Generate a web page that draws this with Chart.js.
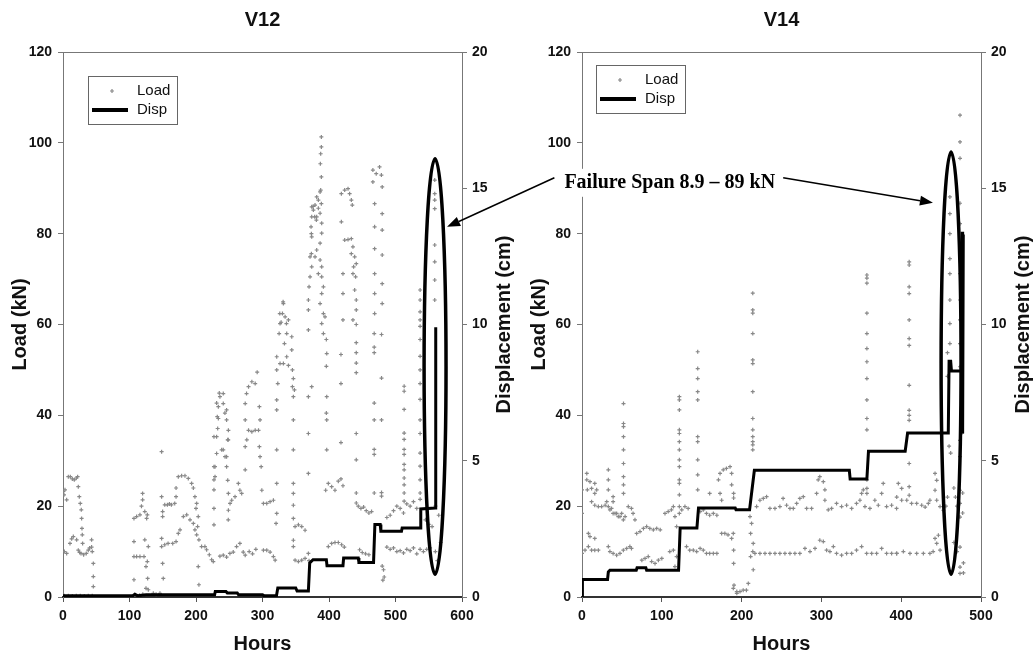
<!DOCTYPE html>
<html lang="en">
<head>
<meta charset="UTF-8">
<title>V12 / V14 load and displacement</title>
<script src="https://cdn.jsdelivr.net/npm/chart.js"></script>
<style>
  body { margin: 0; background: #fff; }
  #wrap { position: relative; width: 1034px; height: 658px; }
  #wrap canvas { position: absolute; top: 0; }
  #v12 { left: 0; }
  #v14 { left: 517px; }
  #notes { left: 0; pointer-events: none; }
</style>
</head>
<body>
<div id="wrap">
  <canvas id="v12" width="517" height="658"></canvas>
  <canvas id="v14" width="517" height="658"></canvas>
  <canvas id="notes" width="1034" height="658"></canvas>
</div>
<script>
// axes
const loadTicks = [0, 20, 40, 60, 80, 100, 120];
const dispTicks = [0, 5, 10, 15, 20];
const v12HourTicks = [0, 100, 200, 300, 400, 500, 600];
const v14HourTicks = [0, 100, 200, 300, 400, 500];
const failureLabel = 'Failure Span 8.9 \u2013 89 kN';

// V12 load, [hours, kN]
const v12Load = [
  [0,23.2],[1.5,22.5],[3,23.6],[5.5,21.4],[2,10],[5.5,9.6],[8,26.5],[11,26.5],[14,26],[17,25.8],[20,26.2],[22,26.5],
  [10.5,11.8],[13,12.8],[15.5,13.3],[20.5,12.6],[23,24.3],[24.5,22.1],[26,20.6],[27.5,19.2],[28,17.3],[28.5,15.1],
  [29,13.7],[29.5,11.8],[23,10.3],[25,9.8],[27,9.6],[31,9.3],[35,9.6],[38,10.3],[40,10.8],[43,12.6],[43,11],[44,10],
  [45.6,7.4],[45.6,4.5],[45.6,2.3],[2,0.3],[8,0.3],[14,0.2],[20,0.3],[26,0.3],[32,0.2],[38,0.3],[44,0.3],
  [106.7,17.3],[110.7,17.7],[115.7,18.1],[119.7,22.8],[119.7,21.4],[118,20],[123,18.8],[126.8,18.1],[125.8,17.3],
  [106.7,12.2],[106.7,8.9],[110.7,8.9],[115.7,8.9],[121.8,8.9],[126.8,7.8],[123,12.6],[128.3,11.1],[124.8,6.7],
  [127.3,4.1],[106.7,3.8],[124.8,1.9],[128.3,1.6],[135.8,0.8],[145.8,0.8],[108,0.5],[115,0.4],[120,0.6],[140,0.6],
  [148.3,32],[148.3,22.1],[149.8,18.8],[149.8,17.7],[148.3,12.9],[148.3,11.1],[149.8,7.4],[150.8,4.1],[153,20.3],
  [157,20.3],[160,20.5],[163,20.3],[168,20.6],[170,24],[170,22.1],[173.4,26.5],[178.4,26.7],[183.4,26.7],[188.4,26.1],
  [193.4,25],[196,24],[198.4,22.1],[201,20.6],[200,19.5],[203.4,17.7],[202.4,15.5],[204.4,12.6],[203.4,6.7],[204.4,2.7],
  [153,11.5],[158,11.8],[165,11.8],[170,12.2],[173.4,14],[176,14.8],[181,17.7],[186,18.1],[191,17],[196,16.2],
  [198.4,14.8],[201,13.7],[208.4,11.1],[213.4,11.1],[216,10.4],[220,9.3],[223.5,8.2],[226,7.8],
  [227,35.3],[227,28.7],[227,25.8],[227,23.6],[227,19.5],[227,15.9],[228.6,26.5],[228.6,28.7],[231,31.6],[231,35.3],
  [232.6,37.1],[233.6,39.3],[233.6,41.9],[236,44.1],[241,44.8],[241,42.6],[246,41.2],[246,39],[248.7,36.7],[247.7,34.6],
  [241,32.4],[243.7,30.9],[238.6,32.4],[246,28.7],[247.7,25.7],[248.7,22.8],[248.7,19.1],[248.5,17],[251.2,20.6],
  [253.7,21.3],[258.7,22.1],[263.7,25],[266,23.5],[268.7,22.8],[251,9.6],[256,9.9],[261,11.1],[266,11.8],[271,9.9],
  [274,9.2],[236,9],[241,9.2],[246,8.8],[274,28],[274,33.1],[274,39],[274,42.6],[276,44.8],[279,46.3],[284,47.4],
  [289,47],[292,49.5],[276.4,34.6],[279,36.7],[284,36.4],[289,36.7],[294,36.7],[295.3,41.9],[296.3,39],[295.3,33.1],
  [296.3,30.9],[298,28.7],[299,23.5],[301.4,20.6],[306.4,20.6],[311.4,21],[316.4,21.3],[301.4,10.3],[306.4,10.3],
  [311.4,9.9],[316.4,8.9],[319,8.1],[231,42.7],[235,44.9],[232,39.7],[243.5,40.5],[246,30.9],[248.5,34.6],[280,10],
  [285,9.5],[290,10.5],
  [321.4,32.4],[321.4,25],[321.4,18.4],[320.4,16.2],[321.4,41.2],[321.4,43.4],[323,47],[321.4,50],[325,58],[326.4,60.2],
  [330,62.4],[331.4,64.6],[334,61.7],[339,61],[336.4,58],[333,55.8],[336.4,52.9],[339,51],[344,57.3],[344,54.4],[345,50],
  [346.4,48.1],[345,46.3],[348,45.6],[346.4,44.1],[331.4,51.4],[326.4,51.4],[321.4,52.9],[346.4,39],[346.4,32.4],
  [346.4,25],[346.4,22.8],[346.4,20.2],[346.4,17.3],[349,15.5],[354,15.9],[359,15.5],[364,14.7],[346.4,12.5],[346.4,11.1],
  [349,8.1],[354,7.8],[359,8.1],[364,8.5],[326,62.4],[331,65],[336,60.2],[328,60.5],
  [369,9.6],[369,27.2],[369,36],[369,44.1],[369,58.8],[369,63.2],[369,65.4],[370,68.3],[371.5,70.5],[374,72.7],
  [371.5,74.9],[374,79.3],[373,81.5],[374,83.7],[376.5,85.2],[374,85.9],[379,86.3],[384,85.6],[386.6,84.5],[381.5,83.7],
  [389,82.3],[389,80.1],[386.6,77.9],[381.5,76.4],[379,74.9],[386.6,74.2],[389,72.7],[384,71.2],[389,70.5],[391.6,68.3],
  [389,66.8],[386.6,64.6],[391.6,62.4],[394,61.7],[389,60.2],[391.6,58],[396.6,53.6],[396.6,44.1],[396.6,39],[396.6,32.4],
  [395,23.5],[399,25],[404,24.3],[399,11.1],[404,11.8],[384,87.4],[381.5,88.1],[386.6,89.2],[374,46.3],[388.5,101.3],
  [388.5,99.1],[387.5,97.6],[387,95.4],[388.5,92.5],[387.5,89.6],[376,86],[378.5,83.7],[373.5,80],[381,83],[373.5,75.6],
  [388.5,86.6],[396,56.7],[396,50.8],[396,40.5],[409,23.5],[414,25.5],[418,26],[421,24.5],[409,12],[414,12],[419,11.5],
  [423,11],[370,8],
  [418.6,88.8],[423.6,89.6],[428.6,89.9],[431,88.8],[433.6,87.4],[435,86.3],[418.6,82.6],[423.6,78.6],[428.6,78.7],
  [433.6,78.9],[436,77.1],[438.6,74.9],[441,73.4],[436,71.2],[440,70.5],[438.6,67.6],[441,65.4],[441,63.2],[436,61],
  [421,71.2],[421,66.8],[421,61],[433.6,75.6],[437,72.7],[418,53.4],[418,47],[418,34],[441,60],[441,56],[441,53.8],
  [441,51.5],[441,49.4],[441,36],[441,30.2],[441,22.9],[441,20.7],[444,20],[448,19.5],[452,19.8],[456,19],[460,18.5],
  [464,18.8],[446,10.4],[450,9.8],[455,9.5],[460,9.3],
  [466,94],[471,93.2],[476,94.7],[478.8,92.9],[466,91.4],[480,90.3],[468.6,86.6],[480,84.4],[468.6,81.5],[480,80.8],
  [468.6,76.7],[480,75.3],[468.6,71.2],[480,69],[468.6,66.8],[480,64.6],[468.6,62.4],[468,58],[468,55],[468,53.8],
  [468,42.7],[468,39],[468,32.5],[468,31.4],[468,22.9],[479,57.8],[479,48.2],[479,39],[479,23],[479,22.2],[480,6.8],
  [482,6],[483,4.4],[481,3.7],
  [487,17.5],[492,18],[497,19],[502,20],[507,19.5],[512,18.5],[517,20.5],[522,20],[527,21],[532,19.5],[537,21.5],
  [487,11],[492,10.5],[497,10.8],[502,10],[507,10.2],[512,9.7],[517,10.5],[522,10.2],[527,10.8],[532,9.5],[537,10.5],
  [542,10],[547,10.5],[552,10.8],[513,46.4],[513,45.3],[513,41.3],[513,36.1],[513,34.7],[513,32.5],[513,31.4],[513,29.2],
  [513,28],[513,26.2],[513,24.7],[513,22.9],[513,21.1],[537,67.6],[537,65.4],[537,62.8],[537,61],[537,59.6],[537,56.7],
  [537,53],[537,50],[537,47],[537,43.5],[537,39],[537,36],[537,31.7],[537,28.8],[537,25.8],[537,22.9],[559,91.8],
  [559,88.8],[559,87.4],[559,85.5],[559,77.5],[559,73.8],[559,69.8],[559,65.4],[545,17],[550,16],[555,15.5],[560,20],
  [565,18],[568,12],[560,10],[563,8]
];

// V12 displacement, [hours, cm]
const v12Disp = [
  [0,0.05],[46,0.05],[105,0.05],[108,0.1],[112,0.05],[125,0.08],[228,0.08],[229,0.2],[245,0.2],[247,0.15],[262,0.15],
  [264,0.08],[300,0.08],[302,0.05],[321,0.05],[323,0.33],[350,0.33],[352,0.22],[369,0.22],[371,1.25],[376,1.37],
  [396,1.37],[397,1.15],[421,1.15],[422,1.43],[444,1.43],[445,1.27],[467,1.27],[469,2.66],[477,2.66],[478,2.41],
  [509,2.41],[510,2.53],[537,2.53],[538,3.23],[560,3.27],[560.5,9.9]
];

// V14 load, [hours, kN]
const v14Load = [
  [0,23.6],[0,18.4],[0,9.6],[6,27.2],[6,25.8],[6.7,23.6],[10,25.4],[12,23.9],[16,25],[16,22.8],[18.4,23.6],[8,14],
  [10,13.3],[16,12.9],[3.8,10.3],[8,11.1],[12,10.3],[16,10.3],[20.5,10.3],[12,21],[16,20.2],[20.5,19.9],[24.6,19.9],
  [29,20.2],[31,21],[33,28],[33,25.8],[33,23.6],[33,19.9],[35,19.2],[37,19.5],[39,22.1],[39,21],[39,18.4],[41.4,18.4],
  [43.4,18.4],[45.5,17.7],[47.6,17.7],[49.7,18.4],[51.8,17],[54,17.7],[33,11.1],[35,10],[39,9.6],[43.4,9.2],[47.6,9.6],
  [51.8,10.3],[56,10.7],[60,11.1],[62,10.7],[52,42.6],[52,38.2],[52,37.5],[52,35.3],[52,32.4],[52,29.4],[52,26.5],
  [52,24.7],[52,22.8],[58,19.9],[62,19.5],[64,18.4],[66.4,17],
  [68.5,14],[72.7,14.4],[77,15.1],[81,15.5],[85,15.1],[89.4,14.8],[93.6,15.1],[98,14.8],[75,8.1],[79,8.5],[83,8.9],
  [87.3,7.8],[91.5,7.4],[95.7,8.1],[100,8.5],[104,18.4],[108,18.8],[112,19.2],[114.5,19.9],[116.5,17.7],[118.6,15.5],
  [110,10],[114.5,10.3],[118.6,8.9],[116.5,6.7],
  [122,44.1],[122,43.4],[122,41.2],[122,36.8],[122,36],[122,34.2],[122,32.4],[122,30.2],[122,28.7],[122,25.8],[122,25],
  [122,22.5],[122,19.9],[122,18.4],[125,19.2],[129,19.9],[133,19.5],[131,11.1],[135,10.3],[139.5,10.3],[143.7,10],
  [148,10.7],[152,10.3],[156,9.6],[160,9.6],[164.6,9.6],[169,9.6],[145,54],[145,50.3],[145,48.1],[145,45.2],[145,43.4],
  [145,35.3],[145,34.2],[145,30.2],[145,26.9],[145,23.6],[148,18.8],[152,19.2],[156,18.4],[160,18],[164.6,18.4],[169,18],
  [160,22.8],[173,22.8],[175,21.3],[171,25.8],[173,27.2],[177,28],[181,28.3],[185.5,28.7],[187.5,27.2],[187.5,24.7],
  [190,22.8],[190,21.8],[175,14],[179,14],[183,13.7],[187.5,12.9],[190,10.3],[190,7.4],[190.5,2.6],[194,0.8],
  [189.6,1.9],[194,1.2],[198,1.2],[202,1.5],[206,1.5],[208.4,3],[189.6,14],[214,66.9],[214,63.2],[214,62.5],[214,58],
  [214,52.2],[214,51.4],[214,45.2],[214,39.3],[214,36.8],[214,35.3],[214,34.2],[214,33.5],[214,32.4],[210.5,17.7],
  [212.5,16.2],[211.3,14],[214.6,11.8],[214,10],[211.3,8.9],[214.6,6],
  [216.7,9.6],[223,9.6],[229.3,9.6],[235.5,9.6],[241.8,9.6],[248,9.6],[254.3,9.6],[260.6,9.6],[266.8,9.6],[273,9.6],
  [279.4,10.7],[285.7,10],[292,10.7],[298,12.5],[302.4,12.2],[306.5,10.3],[310.7,10],[315,11.1],[319,9.6],[325.3,9.2],
  [331.6,9.6],[337.9,9.6],[344,10.3],[350.4,11.1],[356.7,9.6],[363,9.6],[369.2,9.6],[375.5,10.7],[381.7,9.6],[388,9.6],
  [394.2,9.6],
  [218.8,19.9],[223,21.3],[227.2,21.7],[231.3,22.1],[235.5,19.5],[241.8,19.5],[248,19.9],[252,21.7],[256.4,20.2],
  [260.6,19.5],[264.8,19.5],[269,20.6],[273,21.7],[277.3,22.1],[281.5,19.5],[287.7,19.5],[294,22.8],[296,25.8],[298,26.5],
  [302.4,25.4],[304.4,23.6],[304.4,21.3],[308.6,19.2],[312.8,19.5],[319,20.6],[325.3,19.9],[331.6,20.2],[337.9,19.5],
  [344,20.6],[348.3,21.3],[350.4,22.8],[352.5,23.6],[354.6,19.9],[360.8,19.5],[367,21.3],[371.3,20.2],[375.5,22.8],
  [377.5,25],[381.7,19.9],[388,20.2],[394.2,19.5],
  [357,70.9],[357,70.2],[357,69.1],[357,62.5],[357,58],[357,54.7],[357,51.8],[357,48.1],[357,43.4],[357,39.3],[357,36.8],
  [357,25.8],[357,23.9],[357,22.8],
  [410,73.8],[410,73.1],[410,68.3],[410,66.8],[410,61],[410,56.9],[410,55.4],[410,46.6],[410,41.1],[410,40],[410,38.9],
  [410,29.4],[410,24.3],[410,22.4],[394.4,22],[400.6,21.3],[407,21.3],[413,20.6],[419.4,20.6],[425.7,20.2],[430,19.8],
  [434,20.6],[436,21.3],[396.4,25],[400.6,23.9],[394.4,9.6],[402.7,10],[411,9.6],[419.4,9.6],[427.8,9.6],[436,9.6],[440,10],
  [442.4,27.2],[444.5,25.7],[442.4,23.5],[444.5,21.3],[448.7,19.9],[452.8,19.1],[442.4,12.9],[446.6,13.6],[444.5,11.8],
  [448.7,10.3],[461,88.1],[461,84.4],[461,80],[461,74.5],[461,71.2],[461,65.4],[461,60.2],[461,55.8],[473.7,106.1],
  [473.7,100.2],[473.7,96.6],[473.7,86.7],[473.7,82.2],[473.7,77.5],[473.7,71.2],[473.7,65.4],[473.7,61],[473.7,55.8],
  [473.7,50.7],[473.7,34.5],[473.7,30.9],[473.7,23.5],[473.7,20.6],[473.7,17.6],[473.7,11],[473.7,6.6],[473.7,5.2],
  [458,53.8],[458,48.6],[460,33.2],[462,31.7],[476,36.1],[477,22.9],[477,18.5],[478,7.5],[478,5.3],[456,20],[458,22],
  [466,24],[468,22],[470,20],[466,12],[470,10]
];

// V14 displacement, [hours, cm]
const v14Disp = [
  [0,0],[0.5,0.64],[32,0.64],[33,0.92],[35,0.98],[68,0.98],[69,1.07],[80,1.07],[81,0.98],[121,0.98],[123,2.53],
  [144,2.53],[146,3.27],[192,3.27],[193,3.2],[210,3.2],[216,4.65],[335,4.65],[336,4.33],[357,4.33],[359,5.35],
  [405,5.35],[408,6.02],[459,6.02],[460,8.65],[462,8.65],[463,8.29],[476,8.29],[476.3,13.4],[476.6,6.0],[477,13.2],
  [477.4,6.2],[477.8,13.3]
];

const sans = 'Arial, "Liberation Sans", sans-serif';
const serif = '"Times New Roman", "Liberation Serif", serif';
const toPoints = pairs => pairs.map(p => ({ x: p[0], y: p[1] }));

// title, axis titles, top border and the boxed legend
function framePlugin(title, legendAt) {
  return {
    id: 'frame',
    afterDraw(chart) {
      const ctx = chart.ctx, a = chart.chartArea;
      const midX = (a.left + a.right) / 2, midY = (a.top + a.bottom) / 2;
      ctx.save();
      ctx.strokeStyle = '#777';
      ctx.lineWidth = 1;
      ctx.beginPath();
      ctx.moveTo(a.left, a.top + 0.5);
      ctx.lineTo(a.right, a.top + 0.5);
      ctx.stroke();

      ctx.fillStyle = '#111';
      ctx.font = 'bold 20px ' + sans;
      ctx.textAlign = 'center';
      ctx.textBaseline = 'middle';
      ctx.fillText(title, midX, a.top - 32);
      ctx.fillText('Hours', midX, a.bottom + 47);
      [[a.left - 43, 'Load (kN)'], [a.right + 42, 'Displacement (cm)']].forEach(([x, t]) => {
        ctx.save();
        ctx.translate(x, midY);
        ctx.rotate(-Math.PI / 2);
        ctx.fillText(t, 0, 0);
        ctx.restore();
      });

      // legend box
      const x0 = a.left + legendAt[0], y0 = a.top + legendAt[1];
      ctx.strokeStyle = '#666';
      ctx.strokeRect(x0 + 0.5, y0 + 0.5, 89, 48);
      ctx.strokeStyle = '#888';
      ctx.lineWidth = 1.2;
      ctx.beginPath();
      ctx.moveTo(x0 + 22, y0 + 15); ctx.lineTo(x0 + 26, y0 + 15);
      ctx.moveTo(x0 + 24, y0 + 13); ctx.lineTo(x0 + 24, y0 + 17);
      ctx.stroke();
      ctx.strokeStyle = '#000';
      ctx.lineWidth = 4;
      ctx.beginPath();
      ctx.moveTo(x0 + 4, y0 + 34); ctx.lineTo(x0 + 40, y0 + 34);
      ctx.stroke();
      ctx.font = '15px ' + sans;
      ctx.textAlign = 'left';
      ctx.fillText('Load', x0 + 49, y0 + 15);
      ctx.fillText('Disp', x0 + 49, y0 + 34);
      ctx.restore();
    }
  };
}

function makeChart(id, title, loadPts, dispPts, hourTicks, widths, legendAt) {
  const tickFont = { family: sans, size: 14, weight: 'bold' };
  return new Chart(document.getElementById(id), {
    type: 'scatter',
    data: {
      datasets: [
        {
          label: 'Disp', data: toPoints(dispPts), yAxisID: 'y2', showLine: true,
          pointRadius: 0, borderColor: '#000', borderWidth: 3, order: 1
        },
        {
          label: 'Load', data: toPoints(loadPts), yAxisID: 'y', pointStyle: 'cross',
          pointRadius: 2, borderWidth: 1.2, borderColor: '#888', backgroundColor: '#888', order: 2
        }
      ]
    },
    options: {
      responsive: false,
      animation: false,
      layout: { padding: { top: 52, left: 0, right: 0, bottom: 0 } },
      plugins: { legend: { display: false }, tooltip: { enabled: false } },
      scales: {
        x: {
          type: 'linear', position: 'bottom',
          min: hourTicks[0], max: hourTicks[hourTicks.length - 1],
          ticks: { stepSize: hourTicks[1] - hourTicks[0], font: tickFont, color: '#111', padding: 6 },
          grid: { drawOnChartArea: false, tickLength: 5, color: '#555' },
          border: { color: '#333', width: 2 },
          afterFit: s => { s.height = 61; }
        },
        y: {
          position: 'left',
          min: loadTicks[0], max: loadTicks[loadTicks.length - 1],
          ticks: { stepSize: loadTicks[1] - loadTicks[0], font: tickFont, color: '#111', padding: 6 },
          grid: { drawOnChartArea: false, tickLength: 5, color: '#777' },
          border: { color: '#777' },
          afterFit: s => { s.width = widths[0]; }
        },
        y2: {
          position: 'right',
          min: dispTicks[0], max: dispTicks[dispTicks.length - 1],
          ticks: { stepSize: dispTicks[1] - dispTicks[0], font: tickFont, color: '#111', padding: 5 },
          grid: { drawOnChartArea: false, tickLength: 5, color: '#777' },
          border: { color: '#777' },
          afterFit: s => { s.width = widths[1]; }
        }
      }
    },
    plugins: [framePlugin(title, legendAt)]
  });
}

const v12Chart = makeChart('v12', 'V12', v12Load, v12Disp, v12HourTicks, [63, 55], [25, 24]);
const v14Chart = makeChart('v14', 'V14', v14Load, v14Disp, v14HourTicks, [65, 53], [14, 13]);

function arrow(ctx, x0, y0, x1, y1) {
  const ang = Math.atan2(y1 - y0, x1 - x0), len = 13, half = 5;
  const bx = x1 - len * Math.cos(ang), by = y1 - len * Math.sin(ang);
  ctx.lineWidth = 1.5;
  ctx.beginPath();
  ctx.moveTo(x0, y0);
  ctx.lineTo(bx, by);
  ctx.stroke();
  ctx.beginPath();
  ctx.moveTo(x1, y1);
  ctx.lineTo(bx + half * Math.sin(ang), by - half * Math.cos(ang));
  ctx.lineTo(bx - half * Math.sin(ang), by + half * Math.cos(ang));
  ctx.closePath();
  ctx.fill();
}

// ellipses, label and arrows across both charts
function drawNotes() {
  const ctx = document.getElementById('notes').getContext('2d');
  const at = (chart, off, h, v) => [off + chart.scales.x.getPixelForValue(h), chart.scales.y.getPixelForValue(v)];
  ctx.strokeStyle = '#000';
  ctx.fillStyle = '#000';

  [[v12Chart, 0, 543, 576, 5, 96.5], [v14Chart, 517, 450, 475, 5, 98]].forEach(([c, off, h0, h1, v0, v1]) => {
    const [xa, ya] = at(c, off, h0, v0);
    const [xb, yb] = at(c, off, h1, v1);
    ctx.lineWidth = 3.5;
    ctx.beginPath();
    ctx.ellipse((xa + xb) / 2, (ya + yb) / 2, Math.abs(xb - xa) / 2, Math.abs(ya - yb) / 2, 0, 0, Math.PI * 2);
    ctx.stroke();
  });

  const [tx, ty] = at(v14Chart, 517, 110, 91.2);
  ctx.font = 'bold 20px ' + serif;
  const w = ctx.measureText(failureLabel).width;
  ctx.fillStyle = '#fff';
  ctx.fillRect(tx - w / 2 - 8, ty - 14, w + 16, 28);
  ctx.fillStyle = '#000';
  ctx.textAlign = 'center';
  ctx.textBaseline = 'middle';
  ctx.fillText(failureLabel, tx, ty);

  arrow(ctx, tx - w / 2 - 10, ty - 5, ...at(v12Chart, 0, 577.5, 81.5));
  arrow(ctx, tx + w / 2 + 8, ty - 5, ...at(v14Chart, 517, 439.8, 86.8));
}
drawNotes();
</script>
</body>
</html>
